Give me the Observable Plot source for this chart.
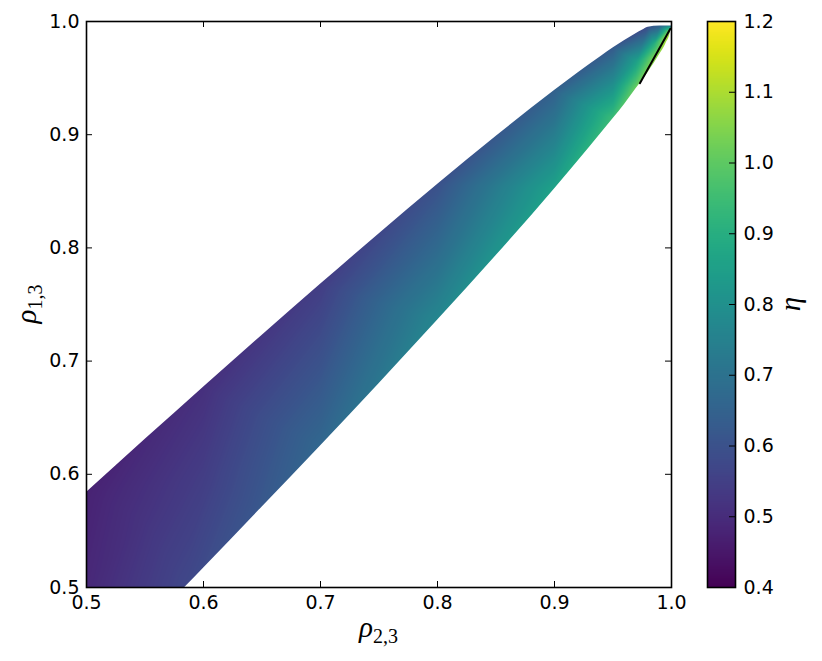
<!DOCTYPE html>
<html><head><meta charset="utf-8">
<script src="https://cdn.jsdelivr.net/npm/d3@7"></script>
<script src="https://cdn.jsdelivr.net/npm/@observablehq/plot@0.6"></script>
<style>
body{margin:0;background:#fff;}
#wrap{position:relative;width:822px;height:661px;background:#fff;}
#wrap svg{position:absolute;top:0;overflow:visible;}
</style></head><body><div id="wrap"></div>
<script>
// ---- tick labels ----
const xTicks = [0.5, 0.6, 0.7, 0.8, 0.9, 1.0];
const yTicks = [0.5, 0.6, 0.7, 0.8, 0.9, 1.0];
const cbTicks = [0.4, 0.5, 0.6, 0.7, 0.8, 0.9, 1.0, 1.1, 1.2];

// ---- boundary of the coloured region ----
const upperX = [0.5, 0.55, 0.6, 0.65, 0.7, 0.75, 0.8, 0.85, 0.9, 0.92, 0.94, 0.95, 0.96, 0.97, 0.975, 0.98, 0.99, 0.999, 1.0];
const upperY = [0.584, 0.6307, 0.677, 0.7227, 0.7678, 0.8123, 0.8559, 0.8984, 0.939, 0.9546, 0.9694, 0.9765, 0.9832, 0.9894, 0.9923, 0.995, 0.996, 0.996, 0.996];
const lowerX = [0.584, 0.6, 0.65, 0.7, 0.75, 0.8, 0.85, 0.9, 0.93, 0.95, 0.96, 0.97, 0.98, 0.99, 0.995, 0.999, 1.0];
const lowerY = [0.5, 0.517, 0.571, 0.625, 0.680, 0.736, 0.793, 0.852, 0.889, 0.914, 0.927, 0.941, 0.955, 0.971, 0.980, 0.990, 0.995];

const sampleX   = [0.5, 0.6, 0.7, 0.8, 0.9, 0.95, 0.98, 0.99, 0.998,
                   0.5, 0.584, 0.65, 0.7, 0.8, 0.9, 0.95, 0.97, 0.98, 0.99, 0.999,
                   0.55, 0.6, 0.7, 0.8, 0.9, 0.95, 0.97, 0.985];
const sampleY   = [0.584, 0.677, 0.768, 0.856, 0.939, 0.9765, 0.996, 0.996, 0.996,
                   0.5, 0.5, 0.571, 0.625, 0.736, 0.852, 0.914, 0.941, 0.955, 0.971, 0.990,
                   0.56, 0.597, 0.696, 0.796, 0.895, 0.945, 0.965, 0.98];
const sampleEta = [0.475, 0.51, 0.545, 0.60, 0.645, 0.63, 0.58, 0.65, 0.80,
                   0.49, 0.57, 0.62, 0.665, 0.77, 0.86, 0.95, 1.02, 1.06, 1.08, 1.10,
                   0.52, 0.545, 0.605, 0.68, 0.75, 0.79, 0.85, 0.90];

// ---- black segment ----
const lineX = [0.973, 0.999];
const lineY = [0.9455, 0.9936];

const samples = sampleX.map((x, i) => ({x, y: sampleY[i], eta: sampleEta[i]}));
const upper = upperX.map((x, i) => ({x, y: upperY[i]}));
const lower = lowerX.map((x, i) => ({x, y: lowerY[i]}));
const seg = lineX.map((x, i) => ({x, y: lineY[i]}));

const mL = 86, mR = 29, mT = 21, mB = 74, W = 700, H = 661;
const fW = W - mL - mR, fH = H - mT - mB;
const font = "DejaVu Sans";
const tickFont = "19px";

const main = Plot.plot({
  width: W, height: H,
  marginLeft: mL, marginRight: mR, marginTop: mT, marginBottom: mB,
  style: {fontFamily: font, color: "black", background: "transparent"},
  x: {domain: [0.5, 1]},
  y: {domain: [0.5, 1]},
  color: {type: "linear", scheme: "viridis", domain: [0.4, 1.2]},
  marks: [
    Plot.raster(samples, {x: "x", y: "y", fill: "eta", interpolate: "barycentric", pixelSize: 1}),
    Plot.areaY(upper, {x: "x", y1: "y", y2: 1, fill: "white", curve: "monotone-x"}),
    Plot.areaY(lower, {x: "x", y1: 0.5, y2: "y", fill: "white", curve: "monotone-x"}),
    Plot.line(seg, {x: "x", y: "y", stroke: "black", strokeWidth: 2}),
    Plot.tickX(xTicks, {x: d => d, insetTop: fH - 6, stroke: "black"}),
    Plot.tickX(xTicks, {x: d => d, insetBottom: fH - 6, stroke: "black"}),
    Plot.tickY(yTicks, {y: d => d, insetRight: fW - 6, stroke: "black"}),
    Plot.tickY(yTicks, {y: d => d, insetLeft: fW - 6, stroke: "black"}),
    Plot.frame({stroke: "black", strokeWidth: 1.6}),
    Plot.axisX({ticks: xTicks, tickSize: 0, tickPadding: 8, tickFormat: ".1f", label: null}),
    Plot.axisY({ticks: yTicks, tickSize: 0, tickPadding: 7, tickFormat: ".1f", label: null})
  ]
});

const cbW = 122, cbL = 7, cbR = 87;
const cb = Plot.plot({
  width: cbW, height: H,
  marginLeft: cbL, marginRight: cbR, marginTop: mT, marginBottom: mB,
  style: {fontFamily: font, color: "black", background: "transparent"},
  x: {domain: [0, 1], axis: null},
  y: {domain: [0.4, 1.2], axis: null},
  color: {type: "linear", scheme: "viridis", domain: [0.4, 1.2]},
  marks: [
    Plot.raster({fill: (x, y) => y, x1: 0, x2: 1, y1: 0.4, y2: 1.2, width: 2, height: fH}),
    Plot.tickY(cbTicks, {y: d => d, insetLeft: (cbW - cbL - cbR) - 6, stroke: "black"}),
    Plot.frame({stroke: "black", strokeWidth: 1.6}),
    Plot.axisY({anchor: "right", ticks: cbTicks, tickSize: 0, tickPadding: 8, tickFormat: ".1f", label: null})
  ]
});
cb.style.left = W + "px";
main.style.left = "0px";

const wrap = document.getElementById("wrap");
wrap.appendChild(main);
wrap.appendChild(cb);

// enlarge tick labels
for (const s of [main, cb]) {
  d3.select(s).selectAll("g[aria-label$='tick label']")
    .attr("font-size", null).style("font-size", tickFont).style("font-family", font);
  d3.select(s).selectAll("g[aria-label$='tick label'] text").style("font-size", tickFont);
}

function mathLabel(svgEl, x, y, rotate, base, sub) {
  const t = d3.select(svgEl).append("text")
    .attr("transform", `translate(${x},${y}) rotate(${rotate})`)
    .attr("text-anchor", "middle")
    .attr("font-family", "Liberation Serif, DejaVu Serif")
    .attr("fill", "black");
  t.append("tspan").attr("font-style", "italic").attr("font-size", 29).text(base);
  if (sub) t.append("tspan").attr("font-size", 20).attr("dy", 6).text(sub);
}
mathLabel(main, mL + fW / 2, 637, 0, "ρ", "2,3");
mathLabel(main, 36, mT + fH / 2, -90, "ρ", "1,3");
mathLabel(cb, 100, mT + fH / 2, -90, "η", null);
</script></body></html>
